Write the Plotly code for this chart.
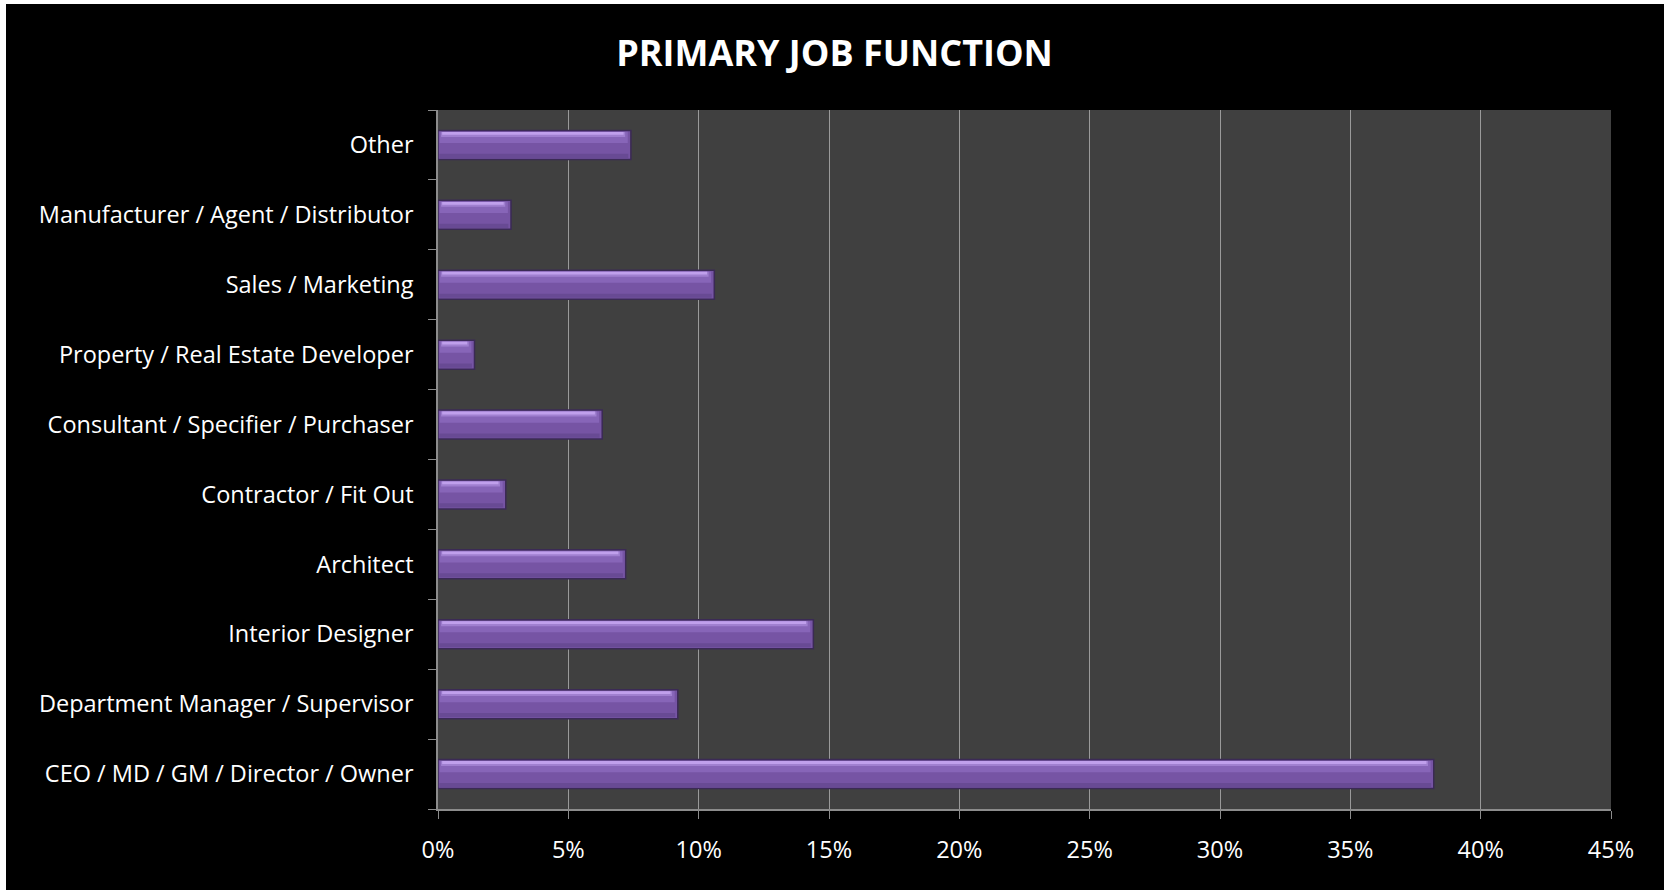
import plotly.graph_objects as go

# Share of respondents by primary job function (%)
categories = [
    "CEO / MD / GM / Director / Owner",
    "Department Manager / Supervisor",
    "Interior Designer",
    "Architect",
    "Contractor / Fit Out",
    "Consultant / Specifier / Purchaser",
    "Property / Real Estate Developer",
    "Sales / Marketing",
    "Manufacturer / Agent / Distributor",
    "Other",
]
values = [38.2, 9.2, 14.4, 7.2, 2.6, 6.3, 1.4, 10.6, 2.8, 7.4]

x_ticks = [0, 5, 10, 15, 20, 25, 30, 35, 40, 45]
x_tick_labels = [f"{t}%" for t in x_ticks]

FONT = "Open Sans"
BAR_W = 0.415


def bevel(trim_end, trim_start, top, height, color):
    """A thin horizontal band inside each bar, used to fake the bevel shading."""
    return go.Bar(
        y=categories, x=[v - trim_end - trim_start for v in values],
        base=trim_start, orientation="h",
        width=height, offset=top - height,
        marker=dict(color=color, line=dict(width=0)),
        hoverinfo="skip",
    )


fig = go.Figure()

# main bar body
fig.add_trace(go.Bar(
    y=categories, x=values, orientation="h",
    width=BAR_W, offset=-BAR_W / 2,
    marker=dict(color="#7654a4", line=dict(color="#3b2a55", width=1.5)),
    hoverinfo="skip",
))
# shading bands from top to bottom
fig.add_trace(bevel(0.12, 0.06, BAR_W / 2 - 0.02, 0.16, "#8765b8"))
fig.add_trace(bevel(0.22, 0.12, BAR_W / 2 - 0.022, 0.07, "#a080d0"))
fig.add_trace(bevel(0.28, 0.16, BAR_W / 2 - 0.022, 0.04, "#c0a0ec"))
fig.add_trace(bevel(0.1, 0.05, -BAR_W / 2 + 0.08, 0.06, "#684a94"))

fig.update_layout(
    width=1669, height=892,
    margin=dict(l=438, r=58, t=110, b=83),
    paper_bgcolor="white",
    plot_bgcolor="rgba(0,0,0,0)",
    barmode="overlay",
    showlegend=False,
    title=dict(
        text="<b>PRIMARY JOB FUNCTION</b>",
        x=0.5, xanchor="center", y=1 - 53 / 892, yanchor="middle",
        font=dict(family=FONT, size=36, color="white"),
    ),
    font=dict(family=FONT, size=23.5, color="white"),
    shapes=[
        # black chart frame inside a thin white border
        dict(type="rect", xref="paper", yref="paper", layer="below",
             x0=(6 - 438) / 1173, x1=(1664 - 438) / 1173,
             y0=(809 - 890) / 699, y1=(809 - 4) / 699,
             fillcolor="black", line=dict(width=0)),
        # dark grey plotting area
        dict(type="rect", xref="paper", yref="paper", layer="below",
             x0=0, x1=1, y0=0, y1=1,
             fillcolor="#404040", line=dict(width=0)),
    ],
    xaxis=dict(
        range=[0, 45], tickvals=x_ticks, ticktext=x_tick_labels,
        showgrid=True, gridcolor="#9a9a9a", gridwidth=1,
        showline=True, linecolor="#8c8c8c", linewidth=1.5,
        ticks="outside", ticklen=8, tickcolor="#8c8c8c",
        ticklabelstandoff=11,
        zeroline=False, fixedrange=True,
    ),
    yaxis=dict(
        type="category", categoryorder="array", categoryarray=categories,
        showgrid=False,
        showline=True, linecolor="#8c8c8c", linewidth=1.5,
        ticks="outside", ticklen=8, tickcolor="#8c8c8c",
        tickson="boundaries", ticklabelstandoff=18,
        fixedrange=True,
    ),
)

fig.write_html("out.html")
